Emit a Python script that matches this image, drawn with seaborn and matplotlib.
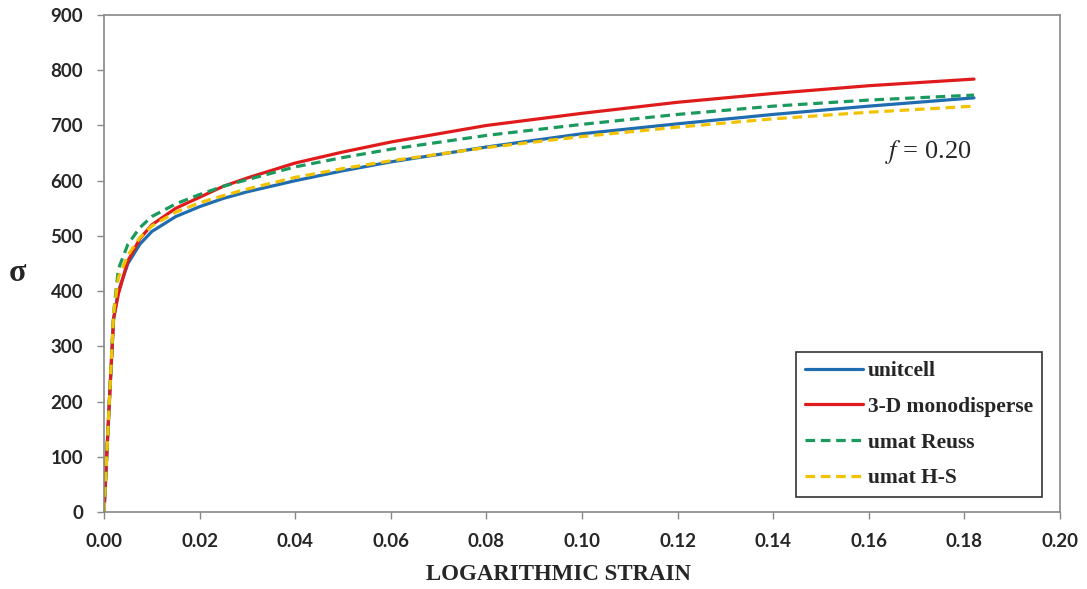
import numpy as np
import pandas as pd
import seaborn as sns
import matplotlib
matplotlib.use("Agg")
import matplotlib.pyplot as plt

# values
strain = [0.0, 0.001, 0.002, 0.003, 0.005, 0.0075, 0.01, 0.015, 0.02, 0.025,
          0.03, 0.04, 0.05, 0.06, 0.08, 0.10, 0.12, 0.14, 0.16, 0.182]
unitcell = [0, 180, 350, 400, 450, 485, 508, 535, 553, 568,
            580, 600, 618, 634, 661, 685, 703, 720, 735, 750]
monodisperse = [0, 180, 350, 395, 455, 495, 520, 550, 570, 590,
                605, 632, 652, 670, 700, 722, 742, 758, 772, 784]
umat_reuss = [0, 180, 360, 440, 485, 515, 535, 558, 575, 590,
              602, 625, 642, 657, 682, 702, 720, 735, 746, 755]
umat_hs = [0, 180, 360, 425, 465, 497, 518, 543, 560, 573,
           585, 606, 622, 636, 660, 680, 697, 712, 724, 735]

series_names = ["unitcell", "3-D monodisperse", "umat Reuss", "umat H-S"]
series_values = [unitcell, monodisperse, umat_reuss, umat_hs]
colors = ["#1f6db0", "#e01b1b", "#1a9a5c", "#f2c200"]
styles = ["-", "-", "--", "--"]

x_ticks = np.arange(0, 0.201, 0.02)
y_ticks = np.arange(0, 901, 100)

df = pd.concat([pd.DataFrame({"strain": strain, "sigma": v, "model": n})
                for n, v in zip(series_names, series_values)])

sns.set_style("white")
plt.rcParams["mathtext.fontset"] = "stix"

fig = plt.figure(figsize=(10.87, 5.89), dpi=100)
ax = fig.add_axes([0.0957, 0.1307, 0.8795, 0.8438])

for name, color, ls in zip(series_names, colors, styles):
    sub = df[df["model"] == name]
    sns.lineplot(data=sub, x="strain", y="sigma", ax=ax, color=color,
                 linestyle=ls, linewidth=2.3, label=name)
for line, ls in zip(ax.lines, styles):
    if ls == "--":
        line.set_dashes((3, 1.8))

ax.set_xlim(0, 0.2)
ax.set_ylim(0, 900)
ax.set_xticks(x_ticks)
ax.set_yticks(y_ticks)
ax.set_xticklabels([f"{t:.2f}" for t in x_ticks])
ax.set_yticklabels([f"{int(t)}" for t in y_ticks])

for lab in ax.get_xticklabels() + ax.get_yticklabels():
    lab.set_fontfamily("Lato")
    lab.set_fontweight("bold")
    lab.set_fontsize(13.5)

ax.tick_params(axis="both", direction="out", length=5, width=1, color="#888888",
               bottom=True, left=True)
ax.tick_params(axis="x", pad=10)
ax.tick_params(axis="y", pad=10)
for sp in ax.spines.values():
    sp.set_color("#888888")
    sp.set_linewidth(1.2)

ax.set_xlabel("LOGARITHMIC STRAIN", fontfamily="Liberation Serif",
              fontweight="bold", fontsize=16.5)
ax.xaxis.set_label_coords(0.475, -0.105)
ax.set_ylabel("σ", fontfamily="Liberation Serif", fontweight="bold", fontsize=23,
              rotation=0, va="center", ha="center")
ax.yaxis.set_label_coords(-0.09, 0.48)

ax.text(0.1634, 652, "$f$ = 0.20", fontfamily="Liberation Serif", fontsize=19,
        va="center", ha="left")

leg = ax.legend(loc="lower right", bbox_to_anchor=(0.981, 0.03), borderaxespad=0,
                prop={"family": "Liberation Serif", "weight": "bold", "size": 15.5},
                frameon=True, fancybox=False, edgecolor="black",
                handlelength=2.7, handletextpad=0.25, labelspacing=0.73,
                borderpad=0.4)
leg.get_frame().set_linewidth(1.2)

fig.savefig("out.png", dpi=100)
